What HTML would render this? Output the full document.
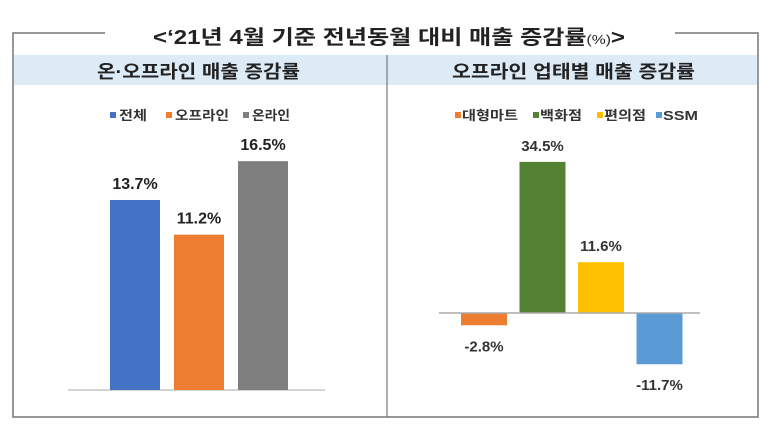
<!DOCTYPE html>
<html><head><meta charset="utf-8"><style>
body{margin:0;background:#fff;}
svg{display:block;font-family:"Liberation Sans","Noto Sans CJK KR",sans-serif;}
</style></head><body>
<svg id="c" width="780" height="444" viewBox="0 0 780 444">
<rect x="0" y="0" width="780" height="444" fill="#fff"/>
<g stroke="#777" stroke-width="1.5" fill="none">
<polyline points="105,33 13,33 13,417 758,417 758,33 675,33"/>
</g>
<text x="153" y="44" textLength="472" lengthAdjust="spacingAndGlyphs" font-size="20" font-weight="bold" fill="#222">&lt;‘21년 4월 기준 전년동월 대비 매출 증감률<tspan font-size="13" font-weight="normal">(%)</tspan>&gt;</text>
<rect x="14" y="55" width="743" height="30" fill="#ddebf7"/>
<line x1="387" y1="55" x2="387" y2="417" stroke="#777" stroke-width="1.2"/>
<text x="97" y="78" textLength="203" lengthAdjust="spacingAndGlyphs" font-size="18" font-weight="bold" fill="#222">온·오프라인 매출 증감률</text>
<text x="452" y="78" textLength="243" lengthAdjust="spacingAndGlyphs" font-size="18" font-weight="bold" fill="#222">오프라인 업태별 매출 증감률</text>
<g id="left"></g>
<g id="right"></g>
</svg>
<script>
const leftCats=["전체","오프라인","온라인"];
const leftVals=[13.7,11.2,16.5];
const leftColors=["#4472c4","#ed7d31","#7f7f7f"];
const rightCats=["대형마트","백화점","편의점","SSM"];
const rightVals=[-2.8,34.5,11.6,-11.7];
const rightColors=["#ed7d31","#548235","#ffc000","#5b9bd5"];
const NS="http://www.w3.org/2000/svg";
function mk(p,t,a){const e=document.createElementNS(NS,t);for(const k in a)e.setAttribute(k,a[k]);p.appendChild(e);return e;}
// left chart
const L=document.getElementById('left');
const lZero=390, lScale=13.87, lX0=110, lStep=64, lW=50;
const ly=v=>lZero-v*lScale;
const base=mk(L,'line',{x1:68,x2:325,y1:lZero,y2:lZero,stroke:'#bbb','stroke-width':1.2});


const lLegX=[110,166,243];
const lLegW=[28,54,38];
leftCats.forEach((c,i)=>{
  const x=lX0+i*lStep;
  const r=mk(L,'rect',{x:x,y:Math.min(ly(leftVals[i]),lZero),width:lW,height:Math.abs(leftVals[i]*lScale),fill:leftColors[i]});
  
  
  const t=mk(L,'text',{x:x+lW/2,y:ly(leftVals[i])-11,'text-anchor':'middle','font-size':16,'font-weight':'bold',fill:'#222'});
  t.textContent=leftVals[i].toFixed(1)+'%';
  
  
  const s=mk(L,'rect',{x:lLegX[i],y:112,width:6,height:6,fill:leftColors[i]});
  
  
  const lt=mk(L,'text',{x:lLegX[i]+9,y:120,'font-size':13,'font-weight':'bold',fill:'#333',textLength:lLegW[i],lengthAdjust:'spacingAndGlyphs'});
  lt.textContent=c;
  
  
});
// right chart
const R=document.getElementById('right');
const rZero=313, rScale=4.38, rX0=461, rStep=58.5, rW=46;
const ry=v=>rZero-v*rScale;
const rLegX=[455,533,597,656];
const rLegW=[56,42,42,35];
rightCats.forEach((c,i)=>{
  const x=rX0+i*rStep, v=rightVals[i];
  const r=mk(R,'rect',{x:x,y:Math.min(ry(v),rZero),width:rW,height:Math.abs(v*rScale),fill:rightColors[i]});
  
  
  const ty=v>=0?ry(v)-11:ry(v)+26;
  const t=mk(R,'text',{x:x+rW/2,y:ty,'text-anchor':'middle','font-size':15,'font-weight':'bold',fill:'#333'});
  t.textContent=v.toFixed(1)+'%';
  
  
  const s=mk(R,'rect',{x:rLegX[i],y:112,width:6,height:6,fill:rightColors[i]});
  
  
  const lt=mk(R,'text',{x:rLegX[i]+7,y:120,'font-size':13,'font-weight':'bold',fill:'#333',textLength:rLegW[i],lengthAdjust:'spacingAndGlyphs'});
  lt.textContent=c;
  
  
});
const zl=mk(R,'line',{x1:439,x2:700,y1:rZero,y2:rZero,stroke:'#aaa','stroke-width':1.5});


</script>
</body></html>
